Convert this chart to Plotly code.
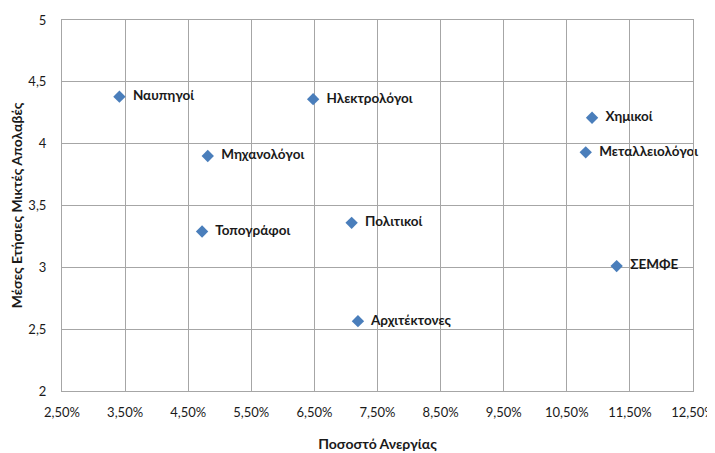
import plotly.graph_objects as go

professions = ["Ναυπηγοί", "Ηλεκτρολόγοι", "Μηχανολόγοι", "Τοπογράφοι", "Πολιτικοί",
               "Αρχιτέκτονες", "Χημικοί", "Μεταλλειολόγοι", "ΣΕΜΦΕ"]
unemployment = [0.0341, 0.0648, 0.0481, 0.0472, 0.0709, 0.0719, 0.1090, 0.1080, 0.1129]
salary = [4.38, 4.36, 3.90, 3.29, 3.36, 2.565, 4.21, 3.93, 3.01]

x_ticks = [0.025 + 0.01 * i for i in range(11)]
y_ticks = [2, 2.5, 3, 3.5, 4, 4.5, 5]

fig = go.Figure(go.Scatter(
    x=unemployment, y=salary, mode="markers+text",
    text=["  " + p for p in professions], textposition="middle right",
    textfont=dict(family="Lato", size=13.5, color="#1a1a1a", weight="bold"),
    marker=dict(symbol="diamond", size=9.5, color="#4A7EBB"),
    hoverinfo="skip", cliponaxis=False,
))

grid = "#a6a6a6"
# page body has an 8px default margin, so the figure is sized/offset to compensate
fig.update_layout(
    width=707, height=445,
    margin=dict(l=54, r=22, t=12, b=62),
    paper_bgcolor="white", plot_bgcolor="white",
    separators=",.",
    showlegend=False,
    font=dict(family="Lato", size=13, color="#1a1a1a"),
    xaxis=dict(range=[0.025, 0.125], tickvals=x_ticks, tickformat=".2%",
               showgrid=True, gridcolor=grid, gridwidth=1, automargin=False,
               showline=True, linecolor=grid, mirror=True, zeroline=False,
               ticks="", ticklabelstandoff=9, ticklabeloverflow="allow",
               title=dict(text="Ποσοστό Ανεργίας", standoff=20,
                          font=dict(size=14, weight="bold"))),
    yaxis=dict(range=[2, 5], tickvals=y_ticks,
               showgrid=True, gridcolor=grid, gridwidth=1, automargin=False,
               showline=True, linecolor=grid, mirror=True, zeroline=False,
               ticks="", ticklabelstandoff=12, ticklabeloverflow="allow",
               title=dict(text="Μέσες Ετήσιες Μικτές Απολαβές", standoff=8,
                          font=dict(size=14, weight="bold"))),
)

fig.write_html("out.html")
